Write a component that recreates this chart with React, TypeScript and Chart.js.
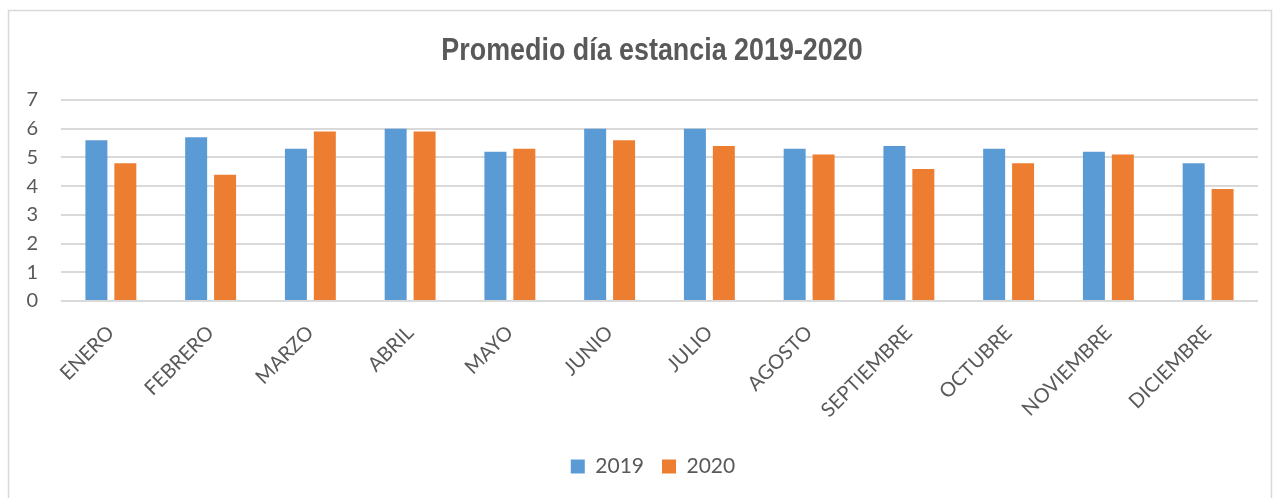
import React, { useEffect, useRef } from "react";
import { Chart, registerables } from "chart.js";

Chart.register(...registerables);

const months = ["ENERO", "FEBRERO", "MARZO", "ABRIL", "MAYO", "JUNIO", "JULIO", "AGOSTO", "SEPTIEMBRE", "OCTUBRE", "NOVIEMBRE", "DICIEMBRE"];
const values2019 = [5.6, 5.7, 5.3, 6.0, 5.2, 6.0, 6.0, 5.3, 5.4, 5.3, 5.2, 4.8];
const values2020 = [4.8, 4.4, 5.9, 5.9, 5.3, 5.6, 5.4, 5.1, 4.6, 4.8, 5.1, 3.9];
const seriesLabels = ["2019", "2020"];
const titleText = "Promedio día estancia 2019-2020";

const textColor = "#595959";
const gridColor = "#d9d9d9";

const framePlugin = {
  id: "frameAndTitle",
  beforeDraw(chart: any) {
    const ctx = chart.ctx;
    ctx.save();
    ctx.fillStyle = "#ffffff";
    ctx.fillRect(0, 0, chart.width, chart.height);
    ctx.strokeStyle = gridColor;
    ctx.lineWidth = 1.5;
    ctx.strokeRect(8.5, 10.5, 1263, 520);
    ctx.restore();
  },
  afterLayout(chart: any) {
    const lg = chart.legend;
    if (lg) {
      lg.left += 24;
      lg.right += 24;
    }
  },
  afterDraw(chart: any) {
    const ctx = chart.ctx;
    ctx.save();
    ctx.fillStyle = textColor;
    ctx.font = "bold 32px 'Liberation Sans', Arial, sans-serif";
    ctx.textAlign = "center";
    ctx.textBaseline = "alphabetic";
    ctx.translate(652, 60);
    ctx.scale(0.84, 1);
    ctx.fillText(titleText, 0, 0);
    ctx.restore();
  },
};

export default function App() {
  const ref = useRef<HTMLCanvasElement | null>(null);
  useEffect(() => {
    if (!ref.current) return;
    const chart = new Chart(ref.current, {
      type: "bar",
      data: {
        labels: months,
        datasets: [
          { label: seriesLabels[0], data: values2019, backgroundColor: "#5b9bd5", borderWidth: 0, barPercentage: 0.76, categoryPercentage: 0.58 },
          { label: seriesLabels[1], data: values2020, backgroundColor: "#ed7d31", borderWidth: 0, barPercentage: 0.76, categoryPercentage: 0.58 },
        ],
      },
      options: {
        responsive: false,
        animation: false,
        layout: { padding: { left: 0, right: 18, top: 100, bottom: 11 } },
        plugins: {
          title: { display: false },
          legend: {
            display: true,
            position: "bottom",
            labels: {
              color: textColor,
              font: { family: "Lato, sans-serif", size: 21 },
              boxWidth: 14,
              boxHeight: 14,
              padding: 18,
            },
          },
          tooltip: { enabled: false },
        },
        scales: {
          x: {
            grid: { display: false },
            border: { display: false },
            ticks: {
              color: textColor,
              font: { family: "Lato, sans-serif", size: 20 },
              minRotation: 45,
              maxRotation: 45,
              padding: 12,
              autoSkip: false,
            },
            afterFit(scale: any) {
              scale.height = 137;
            },
          },
          y: {
            min: 0,
            max: 7,
            border: { display: false },
            grid: { color: gridColor, lineWidth: 2, drawTicks: false },
            ticks: {
              stepSize: 1,
              color: textColor,
              font: { family: "Lato, sans-serif", size: 20 },
              padding: 23,
            },
            afterFit(scale: any) {
              scale.width = 61;
            },
          },
        },
      },
      plugins: [framePlugin],
    });
    return () => chart.destroy();
  }, []);
  return (
    <div style={{ position: "absolute", left: 0, top: 0, width: 1276, height: 498 }}>
      <canvas ref={ref} width={1276} height={498} style={{ display: "block" }} />
    </div>
  );
}
